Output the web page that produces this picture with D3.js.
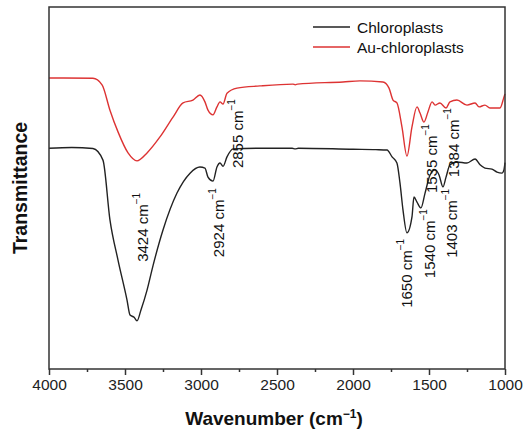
<!DOCTYPE html>
<html>
<head>
<meta charset="utf-8">
<script src="https://cdn.jsdelivr.net/npm/d3@7"></script>
<style>
  html, body { margin: 0; padding: 0; background: #fff; }
  svg { display: block; font-family: "Liberation Sans", Arial, sans-serif; }
</style>
</head>
<body>
<svg id="chart" width="529" height="438"></svg>
<script>
// ---- data (wavenumber in cm^-1, transmittance in arbitrary units) ----
const seriesNames = ["Chloroplasts", "Au-chloroplasts"];
const seriesColors = ["#222222", "#dd3333"];

const chloroWavenumber = [4000, 3850, 3711, 3645, 3599, 3546, 3487, 3467, 3440, 3421, 3395, 3355, 3316, 3250, 3158, 3072, 3007, 2974, 2954, 2921, 2895, 2875, 2855, 2829, 2789, 2612, 2400, 2380, 2360, 2000, 1850, 1776, 1743, 1711, 1691, 1671, 1645, 1612, 1599, 1579, 1553, 1526, 1493, 1460, 1434, 1408, 1388, 1362, 1316, 1250, 1197, 1164, 1132, 1086, 1053, 1020, 1007, 1000];
const chloroT = [61.0, 61.2, 60.9, 57.7, 41.2, 30.1, 19.1, 14.9, 14.3, 13.3, 16.3, 21.8, 28.5, 38.4, 48.6, 54.1, 55.8, 55.5, 53.0, 51.9, 55.8, 56.9, 56.0, 58.6, 60.8, 61.0, 61.0, 60.8, 61.0, 60.7, 60.6, 60.5, 58.6, 56.9, 51.4, 43.9, 37.6, 42.0, 47.5, 46.1, 44.5, 48.6, 53.6, 55.0, 53.6, 50.3, 53.0, 56.4, 57.2, 56.9, 58.0, 56.4, 55.5, 55.2, 54.4, 54.1, 55.0, 57.0];

const auWavenumber = [4000, 3711, 3651, 3599, 3546, 3480, 3421, 3355, 3270, 3184, 3118, 3053, 3007, 2974, 2954, 2921, 2895, 2875, 2855, 2829, 2763, 2612, 2395, 2380, 2365, 2066, 1954, 1803, 1763, 1737, 1711, 1678, 1645, 1612, 1579, 1559, 1533, 1507, 1480, 1460, 1428, 1388, 1362, 1316, 1250, 1197, 1171, 1132, 1099, 1033, 1007, 1000];
const auT = [80.4, 80.3, 78.5, 71.5, 65.5, 59.7, 57.5, 59.7, 64.1, 69.6, 73.5, 74.3, 75.7, 73.8, 71.5, 70.2, 72.4, 73.8, 73.2, 76.2, 77.6, 78.2, 78.7, 78.5, 78.7, 79.3, 79.6, 79.3, 77.6, 74.3, 73.5, 66.9, 58.8, 66.9, 72.4, 70.7, 68.2, 71.0, 73.8, 72.9, 73.5, 72.1, 73.8, 74.3, 72.9, 73.5, 72.4, 72.9, 72.1, 72.1, 75.1, 76.0];

// peak annotations: label, anchor wavenumber, anchor transmittance (text start)
const peakLabels = ["3424", "2924", "2855", "1650", "1540", "1403", "1535", "1384"];
const peakAnchorWn = [3391, 2891, 2760, 1651, 1500, 1355, 1484, 1345];
const peakAnchorT = [29.6, 30.9, 55.5, 16.9, 25.1, 30.7, 48.6, 53.0];

const xMajorTicks = [4000, 3500, 3000, 2500, 2000, 1500, 1000];
const xMinorTicks = [3750, 3250, 2750, 2250, 1750, 1250];

// ---- layout ----
const svg = d3.select("#chart");
const L = 49, R = 505, T = 7, B = 369;

const x = d3.scaleLinear().domain([4000, 1000]).range([L, R]);
const y = d3.scaleLinear().domain([0, 100]).range([B, T]);

const line = d3.line()
  .x(d => x(d[0]))
  .y(d => y(d[1]))
  .curve(d3.curveMonotoneX);

const series = [
  d3.zip(chloroWavenumber, chloroT),
  d3.zip(auWavenumber, auT)
];

// curves
svg.append("g").selectAll("path")
  .data(series)
  .join("path")
  .attr("d", line)
  .attr("fill", "none")
  .attr("stroke", (d, i) => seriesColors[i])
  .attr("stroke-width", 1.4)
  .attr("stroke-linejoin", "round");

// frame
svg.append("rect")
  .attr("x", L).attr("y", T)
  .attr("width", R - L).attr("height", B - T)
  .attr("fill", "none")
  .attr("stroke", "#333")
  .attr("stroke-width", 1.5);

// x axis (major with labels, minor without)
const axMajor = svg.append("g")
  .attr("transform", `translate(0,${B})`)
  .call(d3.axisBottom(x).tickValues(xMajorTicks).tickSize(6).tickPadding(4).tickFormat(d3.format("d")));
axMajor.select(".domain").remove();
axMajor.selectAll("line").attr("stroke", "#333").attr("stroke-width", 1.5);
axMajor.selectAll("text")
  .attr("font-family", "Liberation Sans, Arial, sans-serif")
  .attr("font-size", 15.5)
  .attr("fill", "#222");

const axMinor = svg.append("g")
  .attr("transform", `translate(0,${B})`)
  .call(d3.axisBottom(x).tickValues(xMinorTicks).tickSize(3).tickFormat(""));
axMinor.select(".domain").remove();
axMinor.selectAll("line").attr("stroke", "#333").attr("stroke-width", 1.5);

// axis titles
const xt = svg.append("text")
  .attr("x", (L + R) / 2 - 3)
  .attr("y", 425)
  .attr("text-anchor", "middle")
  .attr("font-weight", "bold")
  .attr("font-size", 19)
  .attr("fill", "#111");
xt.append("tspan").text("Wavenumber (cm");
xt.append("tspan").attr("dy", -7).attr("font-size", 12).text("\u22121");
xt.append("tspan").attr("dy", 7).text(")");

svg.append("text")
  .attr("transform", `translate(27,${(T + B) / 2}) rotate(-90)`)
  .attr("text-anchor", "middle")
  .attr("font-weight", "bold")
  .attr("font-size", 19.5)
  .attr("fill", "#111")
  .text("Transmittance");

// peak annotations
peakLabels.forEach((lab, i) => {
  const t = svg.append("text")
    .attr("transform", `translate(${x(peakAnchorWn[i])},${y(peakAnchorT[i])}) rotate(-90)`)
    .attr("text-anchor", "start")
    .attr("dominant-baseline", "central")
    .attr("font-size", 15)
    .attr("fill", "#111");
  t.append("tspan").text(lab + " cm");
  t.append("tspan").attr("dy", -6).attr("font-size", 10).text("\u22121");
});

// legend
const lg = svg.append("g");
seriesNames.forEach((name, i) => {
  const ly = 27 + i * 20;
  lg.append("line")
    .attr("x1", 313).attr("x2", 350)
    .attr("y1", ly).attr("y2", ly)
    .attr("stroke", seriesColors[i])
    .attr("stroke-width", 1.5);
  lg.append("text")
    .attr("x", 357).attr("y", ly)
    .attr("dominant-baseline", "central")
    .attr("font-size", 15.5)
    .attr("fill", "#111")
    .text(name);
});
</script>
</body>
</html>
